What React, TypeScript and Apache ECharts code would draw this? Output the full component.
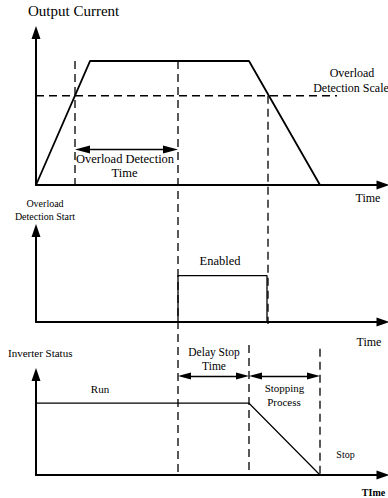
import React, { useEffect, useRef } from "react";
import * as echarts from "echarts";

// ---- time axis (common to all three panels) ----
const TIME_MAX = 34.7;

// ---- panel 1: output current (percent of peak) ----
const currentTimes = [0, 5.4, 21.3, 28.4];
const currentValues = [0, 100, 100, 0];
const detectionScaleLevel = 72;
const detectionScaleEnd = 30.1;

// ---- panel 2: overload detection enabled ----
const enableTimes = [14.2, 14.2, 23.1, 23.1];
const enableValues = [0, 1, 1, 0];

// ---- panel 3: inverter status ----
const statusTimes = [0, 21.3, 28.4];
const statusValues = [1, 1, 0];

// ---- dashed guide lines (overlay scale, same units as panel 1) ----
const guideTimes = [3.9, 14.2, 23.2, 21.3, 28.4];
const guideTops = [100, 100, 72, -129, -132];
const guideBottoms = [0, -231.5, -112, -234, -234];

// ---- span arrows ----
const spanFrom = [3.9, 14.2, 21.3];
const spanTo = [14.2, 21.3, 28.4];
const spanPanel = [0, 2, 2];
const spanLevel = [28.6, 1.38, 1.38];

// ---- texts ----
const labelTexts = [
  "Output Current",
  "Overload",
  "Detection Scale",
  "Overload Detection",
  "Time",
  "Time",
  "Overload",
  "Detection Start",
  "Enabled",
  "Time",
  "Inverter Status",
  "Run",
  "Delay Stop",
  "Time",
  "Stopping",
  "Process",
  "Stop",
  "TIme",
];

const FONT = "serif";

// layout of labels: [x, y, size, align, bold]
const labelLayout: [number, number, number, string, boolean][] = [
  [28, 10.5, 15, "left", false],
  [352, 73, 12, "center", false],
  [351, 88, 12, "center", false],
  [125, 159, 12.5, "center", false],
  [124.5, 173, 12.5, "center", false],
  [368, 198, 12, "center", false],
  [45, 203, 10, "center", false],
  [45, 216, 10, "center", false],
  [220, 261, 12.5, "center", false],
  [369, 342, 12, "center", false],
  [8, 353, 11, "left", false],
  [100, 389, 11, "center", false],
  [214, 352, 11.5, "center", false],
  [214, 365.5, 11.5, "center", false],
  [284.5, 388, 11, "center", false],
  [284, 402, 11, "center", false],
  [345.5, 454, 10, "center", false],
  [373.5, 492, 10, "center", true],
];

const zip = (xs: number[], ys: number[]) => xs.map((x, i) => [x, ys[i]]);

export default function App() {
  const ref = useRef<HTMLDivElement>(null);
  useEffect(() => {
    if (!ref.current) return;
    const chart = echarts.init(ref.current, null, { renderer: "svg" });

    const gridLeft = 36;
    const gridWidth = 347;
    const pxPerTime = gridWidth / TIME_MAX;
    const grids = [
      { left: gridLeft, width: gridWidth, top: 32.5, height: 152.5 },
      { left: gridLeft, width: gridWidth, top: 230.5, height: 91.5 },
      { left: gridLeft, width: gridWidth, top: 374.5, height: 100.5 },
      { left: gridLeft, width: gridWidth, top: 5.2, height: 489.8 },
    ];
    const yMax = [123, 1.97, 1.4];

    const axisLine = {
      show: true,
      onZero: false,
      symbol: ["none", "triangle"],
      symbolSize: [9, 13],
      lineStyle: { color: "#000", width: 2 },
    };

    const xAxes = grids.map((_, i) => ({
      type: "value",
      gridIndex: i,
      min: 0,
      max: TIME_MAX,
      show: i < 3,
      axisLine: axisLine,
      axisTick: { show: false },
      axisLabel: { show: false },
      splitLine: { show: false },
    }));
    const yAxes = grids.map((_, i) => ({
      type: "value",
      gridIndex: i,
      min: i < 3 ? 0 : -250,
      max: i < 3 ? yMax[i] : 145,
      show: i < 3,
      axisLine: axisLine,
      axisTick: { show: false },
      axisLabel: { show: false },
      splitLine: { show: false },
    }));

    const baseLine = (idx: number, data: number[][], width: number, dashed = false) => ({
      type: "line",
      xAxisIndex: idx,
      yAxisIndex: idx,
      data,
      symbol: "none",
      showSymbol: false,
      silent: true,
      clip: false,
      lineStyle: { color: "#000", width, type: dashed ? [8, 5] : "solid" },
    });

    const series: any[] = [];
    series.push(baseLine(0, zip(currentTimes, currentValues), 1.8));
    series.push(
      baseLine(0, [[0, detectionScaleLevel], [detectionScaleEnd, detectionScaleLevel]], 1.3, true)
    );
    series.push(baseLine(1, zip(enableTimes, enableValues), 1.3));
    series.push(baseLine(2, zip(statusTimes, statusValues), 1.2));
    guideTimes.forEach((t, i) => {
      series.push(baseLine(3, [[t, guideTops[i]], [t, guideBottoms[i]]], 1.3, true));
    });

    spanFrom.forEach((f, i) => {
      const p = spanPanel[i];
      const big = p === 0;
      const sz = big ? [8, 15] : [7, 13];
      // arrowheads are centred on the line ends: pull the ends in by half a head
      const inset = sz[1] / 2 / pxPerTime;
      series.push({
        type: "line",
        xAxisIndex: p,
        yAxisIndex: p,
        data: [],
        symbol: "none",
        silent: true,
        markLine: {
          silent: true,
          animation: false,
          symbol: ["triangle", "triangle"],
          symbolSize: sz,
          label: { show: false },
          lineStyle: { color: "#000", width: 1.3, type: "solid" },
          data: [
            [
              { coord: [f + inset, spanLevel[i]] },
              { coord: [spanTo[i] - inset, spanLevel[i]] },
            ],
          ],
        },
      });
    });

    const graphic = labelTexts.map((text, i) => {
      const [x, y, size, align, bold] = labelLayout[i];
      return {
        type: "text",
        x,
        y,
        silent: true,
        style: {
          text,
          fill: "#000",
          font: `${bold ? "bold " : ""}${size}px ${FONT}`,
          fontFamily: FONT,
          fontSize: size,
          fontWeight: bold ? "bold" : "normal",
          textAlign: align,
          align,
          textVerticalAlign: "middle",
          verticalAlign: "middle",
        },
      };
    });

    chart.setOption({
      animation: false,
      backgroundColor: "#fff",
      grid: grids,
      xAxis: xAxes,
      yAxis: yAxes,
      series,
      graphic,
    });
    return () => chart.dispose();
  }, []);

  return (
    <div
      ref={ref}
      style={{ position: "fixed", left: 0, top: 0, width: 388, height: 498, background: "#fff" }}
    />
  );
}
